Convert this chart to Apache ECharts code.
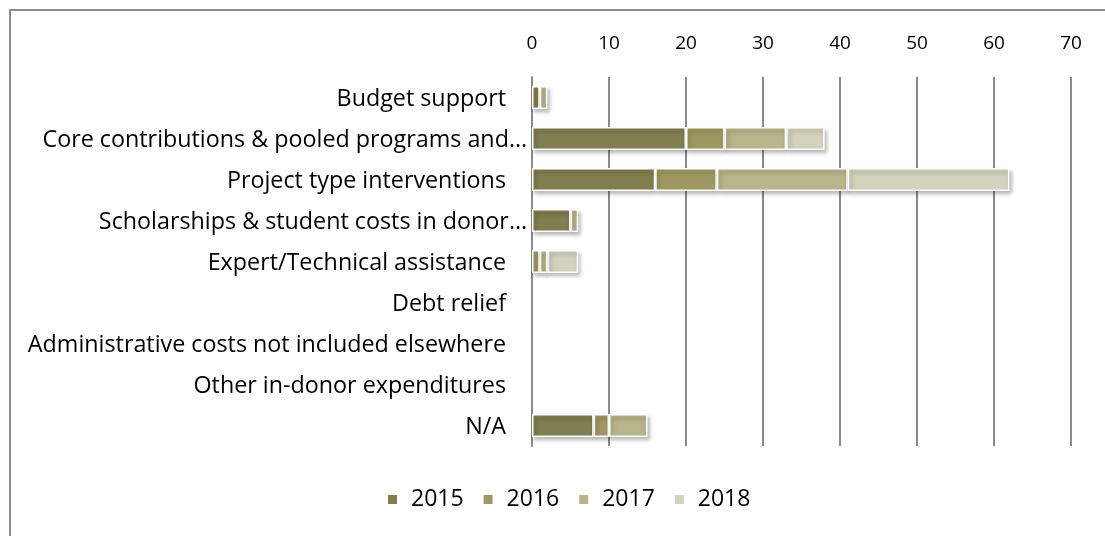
<!DOCTYPE html>
<html>
<head>
<meta charset="utf-8">
<script src="https://cdn.jsdelivr.net/npm/echarts@6/dist/echarts.min.js"></script>
<style>
  html, body { margin: 0; padding: 0; background: #fff; }
  #chart { width: 1105px; height: 536px; }
</style>
</head>
<body>
<div id="chart"></div>
<script>
// Aid categories, top to bottom
const categories = [
  'Budget support',
  'Core contributions & pooled programs and\u2026',
  'Project type interventions',
  'Scholarships & student costs in donor\u2026',
  'Expert/Technical assistance',
  'Debt relief',
  'Administrative costs not included elsewhere',
  'Other in-donor expenditures',
  'N/A'
];

const years = ['2015', '2016', '2017', '2018'];

// Counts per category for each year
const v2015 = [1, 20, 16, 5, 0, 0, 0, 0, 8];
const v2016 = [0, 5, 8, 0, 1, 0, 0, 0, 2];
const v2017 = [1, 8, 17, 1, 1, 0, 0, 0, 5];
const v2018 = [0, 5, 21, 0, 4, 0, 0, 0, 0];

const xTicks = [0, 10, 20, 30, 40, 50, 60, 70];

const colors = ['#807d4f', '#9f9862', '#b8b58a', '#d4d2bc'];
const seriesValues = [v2015, v2016, v2017, v2018];

const chart = echarts.init(document.getElementById('chart'));

const font = '"Open Sans", sans-serif';
const labelText = { fontFamily: font, fontSize: 23.3, color: '#000' };

chart.setOption({
  animation: false,
  color: colors,
  graphic: [{
    type: 'rect',
    shape: { x: 10, y: 10, width: 1200, height: 600 },
    style: { fill: 'none', stroke: '#8c8c8c', lineWidth: 2 },
    silent: true
  }],
  grid: { left: 532, right: 34, top: 77, bottom: 90, containLabel: false },
  legend: {
    bottom: 20,
    left: 381,
    itemWidth: 11,
    itemHeight: 11,
    itemGap: 18,
    icon: 'rect',
    textStyle: { fontFamily: font, fontSize: 23, color: '#000', padding: [0, 0, 0, 8] },
    data: years
  },
  xAxis: {
    type: 'value',
    position: 'top',
    min: xTicks[0],
    max: xTicks[xTicks.length - 1],
    interval: 10,
    axisLine: { show: false },
    axisTick: { show: false },
    axisLabel: { fontFamily: font, fontSize: 19, color: '#000', margin: 24 },
    splitLine: { show: true, lineStyle: { color: '#8a8a8a', width: 2 } }
  },
  yAxis: {
    type: 'category',
    inverse: true,
    data: categories,
    axisLine: { show: true, lineStyle: { color: '#8a8a8a', width: 2 } },
    axisTick: { show: false },
    axisLabel: {
      margin: 5,
      // shortened names run closer to the axis than full ones
      formatter: name => (name.endsWith('\u2026') ? '{cut|' + name + '}' : '{full|' + name + '}'),
      rich: {
        full: Object.assign({ padding: [3, 21, 0, 0] }, labelText),
        cut: Object.assign({ padding: [3, 0, 0, 0] }, labelText)
      }
    }
  },
  series: seriesValues.map((vals, i) => ({
    name: years[i],
    type: 'bar',
    stack: 'total',
    barWidth: 23,
    // empty cells are left out so no zero-width slivers are drawn
    data: vals.map(v => (v === 0 ? '-' : v)),
    itemStyle: {
      borderColor: '#ffffff',
      borderWidth: 1.5,
      shadowBlur: 4,
      shadowOffsetX: 2,
      shadowOffsetY: 3,
      shadowColor: 'rgba(0,0,0,0.28)'
    }
  }))
});
</script>
</body>
</html>
